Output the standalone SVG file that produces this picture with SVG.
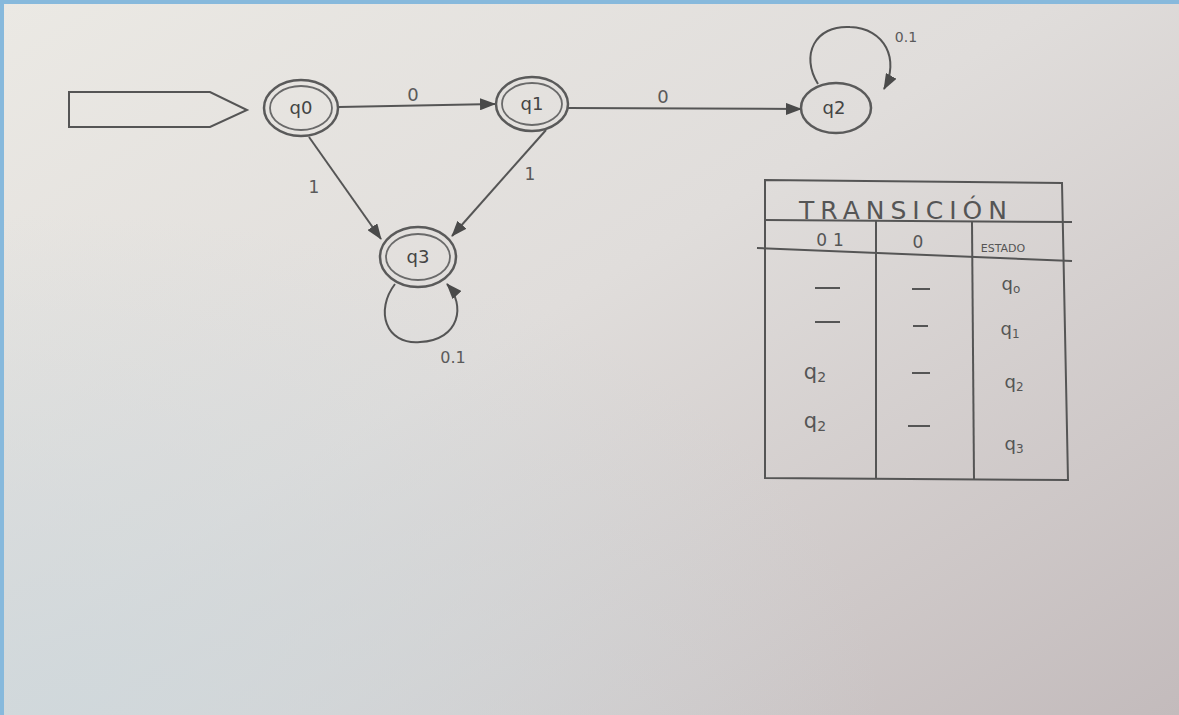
<svg xmlns="http://www.w3.org/2000/svg" width="1179" height="715" viewBox="0 0 1179 715">
<defs>
<linearGradient id="paper" x1="0" y1="0" x2="1" y2="1">
<stop offset="0" stop-color="#ebe9e4"/>
<stop offset="0.45" stop-color="#e0dddb"/>
<stop offset="1" stop-color="#c3bbbc"/>
</linearGradient>
<radialGradient id="tint" cx="0.05" cy="1" r="0.7" fx="0.05" fy="1">
<stop offset="0" stop-color="#cfd8dc" stop-opacity="0.9"/>
<stop offset="1" stop-color="#cfd8dc" stop-opacity="0"/>
</radialGradient>
<marker id="arr" viewBox="0 0 16 12" refX="15" refY="6" markerWidth="16" markerHeight="12" markerUnits="userSpaceOnUse" orient="auto">
<path d="M0,0 L16,6 L0,12 Z" fill="#4a4a4a"/>
</marker>
<style>
.ln{fill:none;stroke:#555;stroke-width:2}
.st{fill:none;stroke:#5a5a5a;stroke-width:2.5}
.in{fill:none;stroke:#6a6a6a;stroke-width:1.8}
.lb{font-family:"DejaVu Sans",sans-serif;fill:#5a5a5a;text-anchor:middle}
.nd{font-family:"DejaVu Sans",sans-serif;fill:#444;font-size:18px;text-anchor:middle}
.tb{fill:none;stroke:#555;stroke-width:2}
.tx{font-family:"DejaVu Sans",sans-serif;fill:#555;text-anchor:middle}
</style>
</defs>
<rect x="0" y="0" width="1179" height="715" fill="url(#paper)"/>
<rect x="0" y="0" width="1179" height="715" fill="url(#tint)"/>
<rect x="0" y="0" width="4" height="715" fill="#87b9dc"/>
<rect x="0" y="0" width="1179" height="4" fill="#87b9dc"/>

<g id="start">
<path d="M69,92 L210,92 L247,110 L210,127 L69,127 Z" class="ln"/>
</g>

<g id="connectors">
<line x1="339" y1="107" x2="495" y2="104" class="ln" marker-end="url(#arr)"/>
<text x="413" y="101" class="lb" font-size="18">0</text>
<line x1="568" y1="108" x2="801" y2="109" class="ln" marker-end="url(#arr)"/>
<text x="663" y="103" class="lb" font-size="18">0</text>
<line x1="309" y1="137" x2="381" y2="239" class="ln" marker-end="url(#arr)"/>
<text x="314" y="193" class="lb" font-size="17">1</text>
<line x1="546" y1="130" x2="452" y2="236" class="ln" marker-end="url(#arr)"/>
<text x="530" y="180" class="lb" font-size="17">1</text>
<path d="M818,84 C800,55 815,25 850,27 C885,28 900,60 884,89" class="ln" marker-end="url(#arr)"/>
<text x="906" y="42" class="lb" font-size="14">0.1</text>
<path d="M395,284 C375,310 385,345 420,342 C460,340 466,305 447,284" class="ln" marker-end="url(#arr)"/>
<text x="453" y="363" class="lb" font-size="16">0.1</text>
</g>

<g id="q0">
<ellipse cx="301" cy="108" rx="37" ry="28" class="st"/>
<ellipse cx="301" cy="108" rx="31" ry="22" class="in"/>
<text x="301" y="114" class="nd">q0</text>
</g>
<g id="q1">
<ellipse cx="532" cy="104" rx="36" ry="27" class="st"/>
<ellipse cx="532" cy="104" rx="30" ry="21" class="in"/>
<text x="532" y="110" class="nd">q1</text>
</g>
<g id="q2">
<ellipse cx="836" cy="108" rx="35" ry="25" class="st"/>
<text x="834" y="114" class="nd">q2</text>
</g>
<g id="q3">
<ellipse cx="418" cy="257" rx="38" ry="30" class="st"/>
<ellipse cx="418" cy="257" rx="32" ry="23" class="in"/>
<text x="418" y="263" class="nd">q3</text>
</g>

<g id="table">
<path d="M765,180 L1062,183 L1068,480 L765,478 Z" class="tb"/>
<line x1="765" y1="220" x2="1072" y2="222" class="tb"/>
<line x1="757" y1="248" x2="1072" y2="261" class="tb"/>
<line x1="876" y1="221" x2="876" y2="478" class="tb"/>
<line x1="972" y1="222" x2="974" y2="479" class="tb"/>
<text x="906" y="219" class="tx" font-size="25" letter-spacing="6" fill="#666">TRANSICIÓN</text>
<text x="833" y="246" class="tx" font-size="17" letter-spacing="6">01</text>
<text x="918" y="248" class="tx" font-size="17">0</text>
<text x="1003" y="252" class="tx" font-size="11">ESTADO</text>
<line x1="815" y1="288" x2="840" y2="288" class="tb"/>
<line x1="815" y1="322" x2="840" y2="322" class="tb"/>
<text x="815" y="379" class="tx" font-size="21">q<tspan font-size="14" dy="3">2</tspan></text>
<text x="815" y="428" class="tx" font-size="21">q<tspan font-size="14" dy="3">2</tspan></text>
<line x1="912" y1="289" x2="930" y2="289" class="tb"/>
<line x1="913" y1="326" x2="928" y2="326" class="tb"/>
<line x1="912" y1="373" x2="930" y2="373" class="tb"/>
<line x1="908" y1="426" x2="930" y2="426" class="tb"/>
<text x="1011" y="290" class="tx" font-size="18">q<tspan font-size="12" dy="3">o</tspan></text>
<text x="1010" y="335" class="tx" font-size="18">q<tspan font-size="12" dy="3">1</tspan></text>
<text x="1014" y="388" class="tx" font-size="18">q<tspan font-size="12" dy="3">2</tspan></text>
<text x="1014" y="450" class="tx" font-size="18">q<tspan font-size="12" dy="3">3</tspan></text>
</g>
</svg>
